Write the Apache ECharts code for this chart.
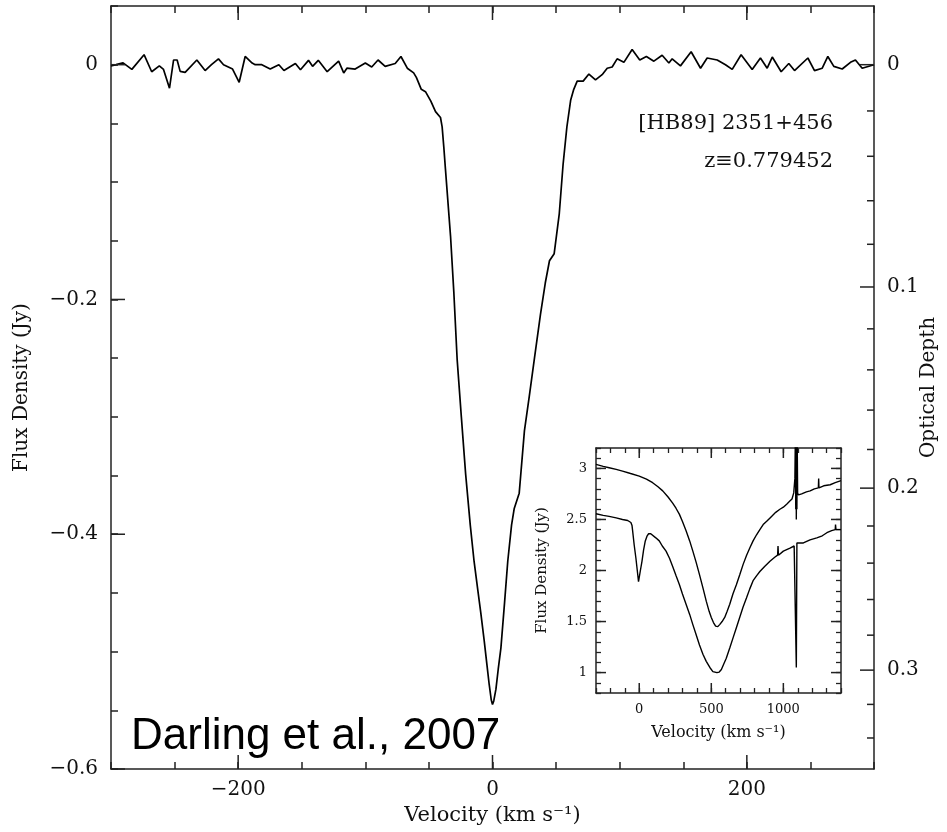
<!DOCTYPE html>
<html>
<head>
<meta charset="utf-8">
<script src="https://cdn.jsdelivr.net/npm/echarts@6/dist/echarts.min.js"></script>
<style>html,body{margin:0;padding:0;background:#fff}#chart{width:947px;height:832px}</style>
</head>
<body>
<div id="chart"></div>
<script>
// ---- Main spectrum (velocity km/s, flux density Jy) ----
const velocity = [-300,-296,-290.5,-283.6,-274,-268,-262,-258.7,-254,-250.8,-248,-245.6,-241.7,-232.5,-226,-221,-215.5,-211.5,-204.4,-199.2,-194.5,-189,-186.6,-181.4,-174.8,-168,-164,-155,-151,-144.7,-141.5,-137,-130,-121,-117,-114.5,-108,-100,-95,-90,-84.4,-76.5,-72,-67,-62,-59.8,-56,-52.7,-48.5,-44.8,-40.9,-39.6,-38.3,-37,-35.6,-33,-30.4,-27.8,-24.5,-21.1,-17.5,-14.5,-11.5,-9.2,-6.6,-4.5,-2.6,-1,0,1,2.7,4.5,6.6,9.5,12,15,17.1,21,25.1,29,33,37.7,41.5,44.8,48.5,52.5,55.5,58.5,61.5,63.9,66.6,71.3,75.8,81,86.2,90.2,94.1,98,103.3,109.8,115.8,121,126.9,133.4,138.7,141.3,147.8,156.2,163.6,168.8,176.7,183.2,188.5,195.5,204.2,210.7,216,220,227,233,237.5,248,253.2,259.3,263.7,268.4,275,281.5,285.4,290.7,300];
const flux = [-0.001,0.0,0.0015,-0.004,0.0085,-0.006,-0.001,-0.004,-0.020,0.004,0.004,-0.0057,-0.0066,0.004,-0.005,0.0,0.005,0.0,-0.0037,-0.015,0.007,0.0014,0.0,0.0,-0.0037,0.0,-0.005,0.001,-0.0043,0.0037,-0.0014,0.0037,-0.006,0.003,-0.007,-0.003,-0.0037,0.0014,-0.002,0.004,-0.0014,0.001,0.007,-0.003,-0.007,-0.011,-0.021,-0.023,-0.031,-0.040,-0.045,-0.053,-0.070,-0.089,-0.109,-0.146,-0.194,-0.251,-0.300,-0.349,-0.392,-0.423,-0.448,-0.467,-0.490,-0.510,-0.528,-0.541,-0.545,-0.542,-0.532,-0.515,-0.497,-0.458,-0.423,-0.392,-0.378,-0.365,-0.312,-0.282,-0.250,-0.213,-0.186,-0.167,-0.161,-0.127,-0.085,-0.053,-0.030,-0.021,-0.014,-0.014,-0.008,-0.013,-0.0085,-0.003,-0.002,0.005,0.002,0.013,0.004,0.007,0.003,0.008,0.0014,0.005,-0.001,0.011,-0.003,0.0057,0.004,0.0,-0.004,0.0085,-0.004,0.0057,-0.003,0.0065,-0.006,0.001,-0.005,0.0057,-0.005,-0.003,0.007,-0.0014,-0.0037,0.002,0.004,-0.003,0.0];

// ---- Inset spectra ----
const insetVelUpper = [-300,-250,-209,-160,-116,-60,0,50,93,130,163,200,232,255,279,300,325,350,372,395,418,442,465,485,500,515,530,545,558,575,593,610,628,650,674,698,721,745,767,790,814,837,860,890,918,947,976,1000,1023,1045,1060,1072,1080,1084,1086,1088,1090,1092,1094,1096,1099,1105,1127,1160,1186,1215,1243,1245,1247,1280,1325,1360,1400];
const insetFluxUpper = [3.04,3.02,3.007,2.99,2.974,2.95,2.925,2.895,2.86,2.82,2.78,2.72,2.66,2.61,2.55,2.48,2.39,2.29,2.19,2.08,1.96,1.83,1.70,1.60,1.54,1.49,1.455,1.45,1.47,1.50,1.54,1.60,1.67,1.77,1.86,1.96,2.06,2.15,2.22,2.29,2.35,2.40,2.45,2.49,2.53,2.57,2.60,2.62,2.65,2.68,2.70,2.76,2.9,3.4,2.6,3.4,2.5,3.4,2.6,3.3,2.76,2.74,2.75,2.77,2.78,2.80,2.81,2.90,2.81,2.83,2.84,2.86,2.88];
const insetVelLower = [-300,-250,-209,-160,-116,-80,-58,-50,-46,-35,-23,-12,-5,8,19,30,42,55,65,80,93,115,139,160,186,210,232,255,279,300,325,350,372,395,418,442,465,490,511,539,555,570,585,604,628,651,674,697,720,744,767,790,815,837,870,907,940,960,963,966,1000,1046,1075,1086,1090,1094,1139,1185,1232,1270,1302,1335,1360,1362,1365,1400];
const insetFluxLower = [2.556,2.54,2.53,2.515,2.50,2.49,2.47,2.44,2.39,2.25,2.12,1.98,1.89,2.0,2.09,2.2,2.29,2.34,2.36,2.36,2.35,2.32,2.29,2.24,2.19,2.12,2.04,1.95,1.86,1.77,1.67,1.57,1.47,1.37,1.27,1.18,1.11,1.05,1.01,1.0,1.005,1.03,1.08,1.14,1.24,1.34,1.44,1.54,1.64,1.73,1.82,1.90,1.95,1.99,2.04,2.09,2.13,2.15,2.24,2.15,2.19,2.22,2.24,2.25,1.05,2.27,2.27,2.30,2.32,2.34,2.37,2.39,2.40,2.45,2.40,2.40];

// ---- Tick labels ----
const mainXLabels = [-200, 0, 200];
const mainYLabels = [0, -0.2, -0.4, -0.6];
const opticalDepthTicks = [0,0.02,0.04,0.06,0.08,0.1,0.12,0.14,0.16,0.18,0.2,0.22,0.24,0.26,0.28,0.3,0.32,0.34];
const opticalDepthLabels = [0, 0.1, 0.2, 0.3];
const continuumJy = 1.99;
const insetXLabels = [0, 500, 1000];
const insetYLabels = [1, 1.5, 2, 2.5, 3];

const SERIF = 'DejaVu Serif';
const AX = '#222';
function fmt(v){ return v < 0 ? '\u2212' + String(Math.abs(v)) : String(v); }
function inList(list, v){ return list.some(t => Math.abs(t - v) < 1e-6); }
function tauToFlux(t){ return -continuumJy * (1 - Math.exp(-t)); }

function xTicks(xi, yi, values, yOther, len) {
  return {
    type: 'custom', xAxisIndex: xi, yAxisIndex: yi, silent: true, z: 5,
    data: values.map(v => [v, yOther]),
    renderItem: function (params, api) {
      const cs = params.coordSys;
      const x = api.coord([api.value(0), api.value(1)])[0];
      const st = {stroke: AX, lineWidth: 1.5};
      return {type: 'group', children: [
        {type: 'line', shape: {x1: x, y1: cs.y + cs.height, x2: x, y2: cs.y + cs.height - len}, style: st},
        {type: 'line', shape: {x1: x, y1: cs.y, x2: x, y2: cs.y + len}, style: st}
      ]};
    }
  };
}
function yTicks(xi, yi, values, xOther, len, both) {
  return {
    type: 'custom', xAxisIndex: xi, yAxisIndex: yi, silent: true, z: 5,
    data: values.map(v => [xOther, v]),
    renderItem: function (params, api) {
      const cs = params.coordSys;
      const y = api.coord([api.value(0), api.value(1)])[1];
      const st = {stroke: AX, lineWidth: 1.5};
      const ch = [{type: 'line', shape: {x1: cs.x, y1: y, x2: cs.x + len, y2: y}, style: st}];
      if (both) ch.push({type: 'line', shape: {x1: cs.x + cs.width, y1: y, x2: cs.x + cs.width - len, y2: y}, style: st});
      return {type: 'group', children: ch};
    }
  };
}
const opticalSeries = {
  type: 'custom', xAxisIndex: 0, yAxisIndex: 0, silent: true, z: 5,
  data: opticalDepthTicks.map(t => [-300, tauToFlux(t), t]),
  renderItem: function (params, api) {
    const cs = params.coordSys;
    const y = api.coord([api.value(0), api.value(1)])[1];
    const t = api.value(2);
    const major = inList(opticalDepthLabels, t);
    const xr = cs.x + cs.width;
    const ch = [{type: 'line', shape: {x1: xr, y1: y, x2: xr - (major ? 14 : 7), y2: y}, style: {stroke: AX, lineWidth: 1.5}}];
    if (major) ch.push({type: 'text', style: {text: String(t), x: xr + 13, y: y, fill: '#111', font: '20px "' + SERIF + '"', align: 'left', verticalAlign: 'middle'}});
    return {type: 'group', children: ch};
  }
};

const chart = echarts.init(document.getElementById('chart'));
const labelStyle = {color: '#111', fontFamily: SERIF};
function line(){ return {onZero: false, lineStyle: {color: AX, width: 1.5}}; }
chart.setOption({
  animation: false,
  backgroundColor: '#fff',
  grid: [
    {left: 111, top: 6, width: 763, height: 763},
    {left: 596, top: 448, width: 245, height: 245}
  ],
  xAxis: [
    {gridIndex: 0, type: 'value', min: -300, max: 300, interval: 50, position: 'bottom',
     axisLine: line(), axisTick: {inside: true, length: 7, lineStyle: {color: AX, width: 1.5}},
     axisLabel: Object.assign({fontSize: 20, margin: 11, formatter: v => inList(mainXLabels, v) ? fmt(v) : ''}, labelStyle),
     splitLine: {show: false},
     name: 'Velocity (km s\u207B\u00B9)', nameLocation: 'middle', nameGap: 36,
     nameTextStyle: {fontSize: 21, color: '#111', fontFamily: SERIF}},
    {gridIndex: 0, type: 'value', min: -300, max: 300, interval: 50, position: 'top',
     axisLine: line(), axisTick: {inside: true, length: 7, lineStyle: {color: AX, width: 1.5}},
     axisLabel: {show: false}, splitLine: {show: false}},
    {gridIndex: 1, type: 'value', min: -300, max: 1400, interval: 100, position: 'bottom',
     axisLine: line(), axisTick: {inside: true, length: 5, lineStyle: {color: AX, width: 1.3}},
     axisLabel: Object.assign({fontSize: 13, margin: 10, formatter: v => inList(insetXLabels, v) ? fmt(v) : ''}, labelStyle),
     splitLine: {show: false},
     name: 'Velocity (km s\u207B\u00B9)', nameLocation: 'middle', nameGap: 32,
     nameTextStyle: {fontSize: 16, color: '#111', fontFamily: SERIF}},
    {gridIndex: 1, type: 'value', min: -300, max: 1400, interval: 100, position: 'top',
     axisLine: line(), axisTick: {inside: true, length: 5, lineStyle: {color: AX, width: 1.3}},
     axisLabel: {show: false}, splitLine: {show: false}}
  ],
  yAxis: [
    {gridIndex: 0, type: 'value', min: -0.6, max: 0.05, interval: 0.05, position: 'left',
     axisLine: line(), axisTick: {inside: true, length: 7, lineStyle: {color: AX, width: 1.5}},
     axisLabel: Object.assign({fontSize: 20, margin: 13, formatter: v => inList(mainYLabels, v) ? fmt(Math.round(v * 10) / 10) : ''}, labelStyle),
     splitLine: {show: false},
     name: 'Flux Density (Jy)', nameLocation: 'middle', nameGap: 79, nameRotate: 90,
     nameTextStyle: {fontSize: 20, color: '#111', fontFamily: SERIF}},
    {gridIndex: 0, type: 'value', min: -0.6, max: 0.05, position: 'right',
     axisLine: Object.assign(line(), {show: true}), axisTick: {show: false},
     axisLabel: {show: false}, splitLine: {show: false},
     name: 'Optical Depth', nameLocation: 'middle', nameGap: 45, nameRotate: 90,
     nameTextStyle: {fontSize: 20, color: '#111', fontFamily: SERIF}},
    {gridIndex: 1, type: 'value', min: 0.8, max: 3.2, interval: 0.1, position: 'left',
     axisLine: line(), axisTick: {inside: true, length: 5, lineStyle: {color: AX, width: 1.3}},
     axisLabel: Object.assign({fontSize: 13, margin: 9, formatter: v => inList(insetYLabels, v) ? String(Math.round(v * 10) / 10) : ''}, labelStyle),
     splitLine: {show: false},
     name: 'Flux Density (Jy)', nameLocation: 'middle', nameGap: 46, nameRotate: 90,
     nameTextStyle: {fontSize: 15, color: '#111', fontFamily: SERIF}},
    {gridIndex: 1, type: 'value', min: 0.8, max: 3.2, interval: 0.1, position: 'right',
     axisLine: Object.assign(line(), {show: true}), axisTick: {inside: true, length: 5, lineStyle: {color: AX, width: 1.3}},
     axisLabel: {show: false}, splitLine: {show: false}}
  ],
  graphic: [
    {type: 'text', x: 833, y: 124, z: 10, style: {text: '[HB89] 2351+456', font: '21px "' + SERIF + '"', fill: '#111', align: 'right', verticalAlign: 'middle'}},
    {type: 'text', x: 833, y: 162, z: 10, style: {text: 'z\u22610.779452', font: '21px "' + SERIF + '"', fill: '#111', align: 'right', verticalAlign: 'middle'}},
    {type: 'text', x: 131, y: 737, z: 10, style: {text: 'Darling et al., 2007', font: '44px "Liberation Sans"', fill: '#000', align: 'left', verticalAlign: 'middle'}}
  ],
  series: [
    {type: 'line', xAxisIndex: 0, yAxisIndex: 0, data: velocity.map((v, i) => [v, flux[i]]),
     showSymbol: false, symbol: 'none', clip: true, lineStyle: {color: '#000', width: 1.7}},
    {type: 'line', xAxisIndex: 2, yAxisIndex: 2, data: insetVelUpper.map((v, i) => [v, insetFluxUpper[i]]),
     showSymbol: false, symbol: 'none', clip: true, lineStyle: {color: '#000', width: 1.4}},
    {type: 'line', xAxisIndex: 2, yAxisIndex: 2, data: insetVelLower.map((v, i) => [v, insetFluxLower[i]]),
     showSymbol: false, symbol: 'none', clip: true, lineStyle: {color: '#000', width: 1.4}},
    xTicks(0, 0, mainXLabels, -0.6, 14),
    yTicks(0, 0, mainYLabels, -300, 14, false),
    opticalSeries,
    xTicks(2, 2, insetXLabels, 0.8, 10),
    yTicks(2, 2, insetYLabels, -300, 10, true)
  ]
});
</script>
</body>
</html>
